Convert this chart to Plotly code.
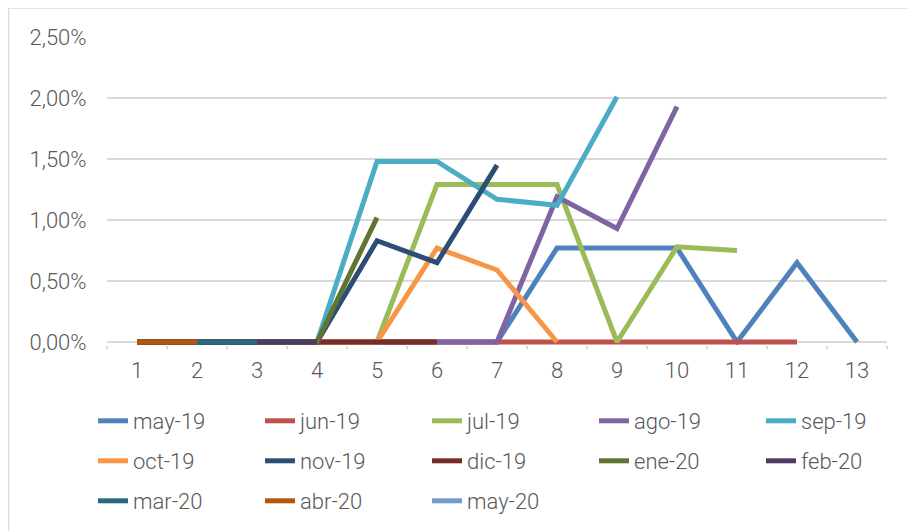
import plotly.graph_objects as go

periods = list(range(1, 14))
series_names = ["may-19", "jun-19", "jul-19", "ago-19", "sep-19", "oct-19", "nov-19",
                "dic-19", "ene-20", "feb-20", "mar-20", "abr-20", "may-20"]

may19 = [0, 0, 0, 0, 0, 0, 0, 0.77, 0.77, 0.77, 0, 0.65, 0]
jun19 = [0, 0, 0, 0, 0, 0, 0, 0, 0, 0, 0, 0]
jul19 = [0, 0, 0, 0, 0, 1.29, 1.29, 1.29, 0, 0.78, 0.75]
ago19 = [0, 0, 0, 0, 0, 0, 0, 1.19, 0.93, 1.93]
sep19 = [0, 0, 0, 0, 1.48, 1.48, 1.17, 1.12, 2.01]
oct19 = [0, 0, 0, 0, 0, 0.77, 0.59, 0]
nov19 = [0, 0, 0, 0, 0.83, 0.65, 1.45]
dic19 = [0, 0, 0, 0, 0, 0]
ene20 = [0, 0, 0, 0, 1.02]
feb20 = [0, 0, 0, 0]
mar20 = [0, 0, 0]
abr20 = [0, 0]
may20 = [0]

all_values = [may19, jun19, jul19, ago19, sep19, oct19, nov19,
              dic19, ene20, feb20, mar20, abr20, may20]
colors = ["#4F81BD", "#C0504D", "#9BBB59", "#8064A2", "#4BACC6", "#F79646", "#2C4D75",
          "#772C2A", "#5F7530", "#4D3B62", "#276A7C", "#B65708", "#729ACA"]

y_tickvals = [0, 0.5, 1.0, 1.5, 2.0, 2.5]
y_ticktext = ["0,00%", "0,50%", "1,00%", "1,50%", "2,00%", "2,50%"]

FONT = "Roboto, sans-serif"
FSIZE = 22
FWEIGHT = 300
GRAY = "#595959"
GRID = "#D9D9D9"

# page has an 8px body margin: figure coords = screen coords - 8
OFF = 8
W, H = 915, 531
PLOT_L, PLOT_R, PLOT_T, ZERO_Y = 107, 887, 37, 342
EXTRA = 3  # px of room below the zero line so thick zero lines are not clipped
PLOT_B = ZERO_Y + EXTRA
L, R, T, B = PLOT_L - OFF, W - (PLOT_R - OFF), PLOT_T - OFF, H - (PLOT_B - OFF)
pw, ph = W - L - R, H - T - B
px_per_unit = (ZERO_Y - PLOT_T) / 2.5
y_min = -EXTRA / px_per_unit

def px_x(p):
    return (p - OFF - L) / pw

def px_y(p):
    return (H - B - (p - OFF)) / ph

legend_ids = ["legend"] * 5 + ["legend2"] * 5 + ["legend3"] * 3

fig = go.Figure()
for name, vals, col, lg in zip(series_names, all_values, colors, legend_ids):
    fig.add_trace(go.Scatter(
        x=periods[:len(vals)], y=vals, name=name, mode="lines",
        line=dict(color=col, width=5),
        legend=lg,
        hovertemplate="%{y:.2f}%<extra>" + name + "</extra>",
    ))

font = dict(family=FONT, size=FSIZE, color=GRAY, weight=FWEIGHT)

def legend_at(row_y):
    return dict(
        orientation="h", x=px_x(93), y=px_y(row_y), xanchor="left", yanchor="middle",
        entrywidth=122, entrywidthmode="pixels", font=font,
        bgcolor="rgba(0,0,0,0)", traceorder="normal", itemclick=False,
    )

fig.update_layout(
    width=W, height=H,
    margin=dict(l=L, r=R, t=T, b=B, autoexpand=False),
    paper_bgcolor="white", plot_bgcolor="white",
    font=font,
    showlegend=True,
    legend=legend_at(421),
    legend2=legend_at(461),
    legend3=legend_at(501),
    xaxis=dict(
        range=[0.5, 13.5], tickmode="array", tickvals=periods,
        ticktext=[str(p) for p in periods],
        ticks="outside", ticklen=6, tickcolor="rgba(0,0,0,0)",
        showgrid=False, zeroline=False, showline=False,
        tickfont=font,
        minor=dict(tickmode="array", tickvals=[p + 0.5 for p in [0] + periods],
                   ticks="outside", ticklen=3, tickcolor=GRID, tickwidth=1.5,
                   showgrid=False),
        fixedrange=True,
    ),
    yaxis=dict(
        range=[y_min, 2.5], tickmode="array", tickvals=y_tickvals, ticktext=y_ticktext,
        ticks="outside", ticklen=15, tickcolor="rgba(0,0,0,0)",
        showgrid=True, gridcolor=GRID, gridwidth=1.5,
        zeroline=False, showline=False,
        tickfont=font,
        fixedrange=True,
    ),
    shapes=[dict(type="rect", xref="paper", yref="paper",
                 x0=px_x(8.5), x1=px_x(960), y0=px_y(580), y1=px_y(8),
                 line=dict(color=GRID, width=1.5), fillcolor="rgba(0,0,0,0)", layer="below")],
)

fig.write_html("out.html")
